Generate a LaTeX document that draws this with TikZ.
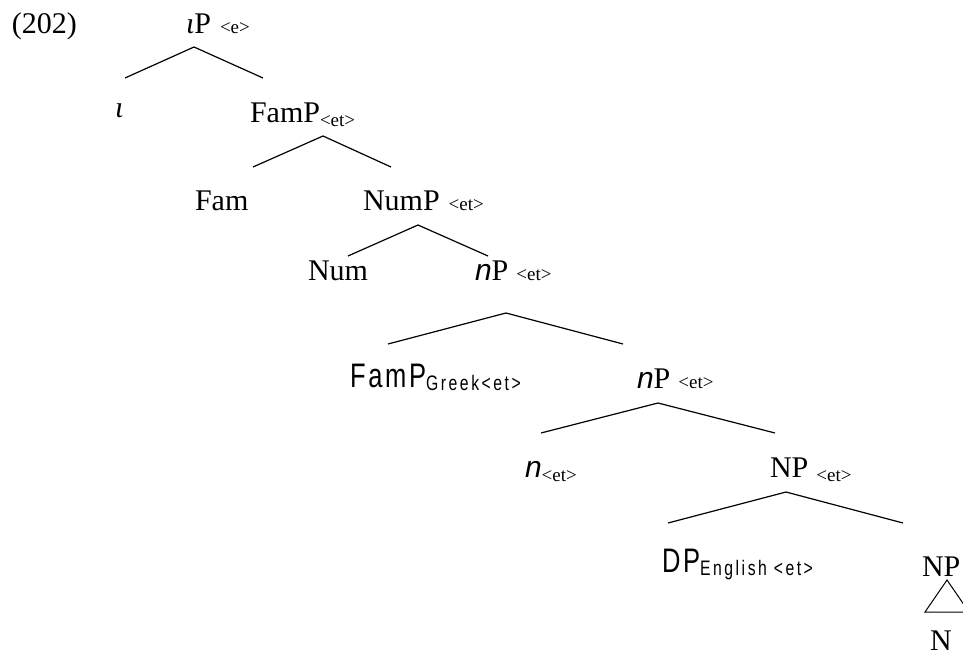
\documentclass[tikz,border=0pt]{standalone}
\usepackage{fontspec}
\newfontfamily\tm{Liberation Serif}
\newfontfamily\ar{Liberation Sans}[FakeStretch=0.75, LetterSpace=8]
\newfontfamily\arsub{Liberation Sans}[FakeStretch=0.75, LetterSpace=12]
\newfontfamily\arn{Liberation Sans}
\newcommand{\sbs}[1]{{\fontsize{19}{22}\selectfont #1}}
\newcommand{\lsb}[1]{\raisebox{-4pt}{\sbs{#1}}}
\newcommand{\nit}{{\arn\itshape n}}
\tikzset{
  lab/.style={inner sep=0pt, outer sep=0pt, anchor=base west, font=\tm\fontsize{30}{33}\selectfont},
  branch/.style={line width=1.2pt, black},
}
\begin{document}
\begin{tikzpicture}[x=1pt,y=-1pt]
\useasboundingbox (0,0) rectangle (963,655);
\fill[white] (0,0) rectangle (963,655);
\clip (0,0) rectangle (963,655);
% labels
\node[lab] (ex) at (12,34) {(202)};
\node[lab] (iP) at (186,34) {{\itshape ι}P\hspace{9pt}\sbs{<e>}};
\node[lab] (iota) at (115,118) {{\itshape ι}};
\node[lab] (FamP) at (250,123) {FamP\lsb{<et>}};
\node[lab] (Fam) at (195,210) {Fam};
\node[lab] (NumP) at (363,210) {NumP\hspace{9pt}\sbs{<et>}};
\node[lab] (Num) at (308,280) {Num};
\node[lab] (nP1) at (475,280) {\nit P\hspace{8pt}\sbs{<et>}};
\node[lab] (FamPG) at (350,387) {{\ar\fontsize{34}{37}\selectfont FamP}\raisebox{-3pt}{\arsub\fontsize{21}{24}\selectfont Greek<et>}};
\node[lab] (nP2) at (637,388) {\nit P\hspace{8pt}\sbs{<et>}};
\node[lab] (n) at (525,477) {\nit\lsb{<et>}};
\node[lab] (NP1) at (770,477) {NP\hspace{8pt}\lsb{<et>}};
\node[lab] (DP) at (662,572) {{\ar\fontsize{34}{37}\selectfont DP}\raisebox{-3pt}{\arsub\fontsize{21}{24}\selectfont English <et>}};
\node[lab] (NP2) at (922,576) {NP};
\node[lab] (N) at (930,650) {N};
% branch points
\coordinate (iPt) at (194,47);  \coordinate (iPl) at (125,78);  \coordinate (iPr) at (263,78);
\coordinate (FPt) at (323,136); \coordinate (FPl) at (253,167); \coordinate (FPr) at (391,167);
\coordinate (NPt) at (418,225); \coordinate (NPl) at (348,256); \coordinate (NPr) at (488,256);
\coordinate (nAt) at (506,313); \coordinate (nAl) at (388,344); \coordinate (nAr) at (623,344);
\coordinate (nBt) at (658,403); \coordinate (nBl) at (541,433); \coordinate (nBr) at (775,433);
\coordinate (NNt) at (786,492); \coordinate (NNl) at (668,523); \coordinate (NNr) at (903,523);
\coordinate (trt) at (947,580); \coordinate (trl) at (925,612); \coordinate (trr) at (969,612);
\draw[branch] (iPl) -- (iPt) -- (iPr);
\draw[branch] (FPl) -- (FPt) -- (FPr);
\draw[branch] (NPl) -- (NPt) -- (NPr);
\draw[branch] (nAl) -- (nAt) -- (nAr);
\draw[branch] (nBl) -- (nBt) -- (nBr);
\draw[branch] (NNl) -- (NNt) -- (NNr);
\draw[branch, line width=1pt] (trl) -- (trt) -- (trr) -- cycle;
\end{tikzpicture}
\end{document}
